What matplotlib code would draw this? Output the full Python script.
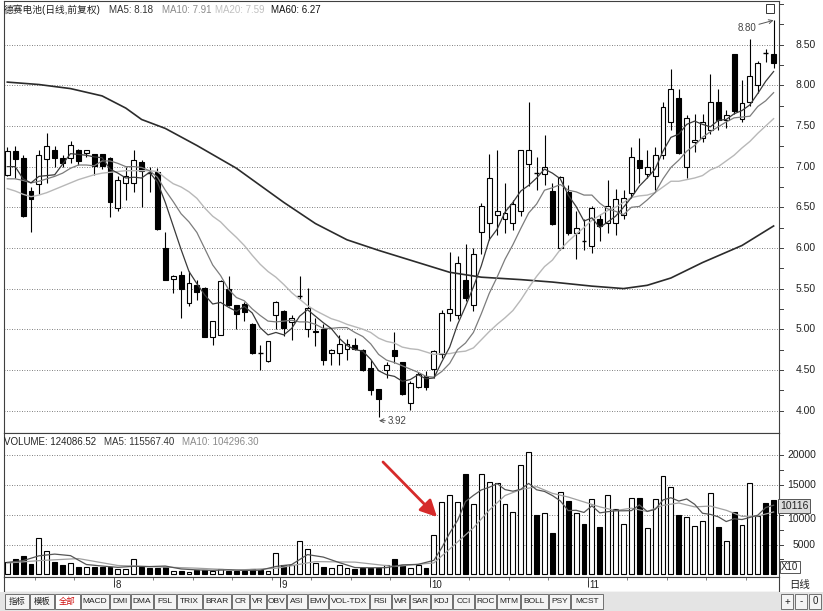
import matplotlib.pyplot as plt
from matplotlib.patches import Rectangle, FancyArrowPatch

W, H = 823, 611

# daily candles, one per trading day
opens = [6.90, 7.19, 7.11, 6.70, 6.79, 7.09, 7.21, 7.11, 7.11, 7.20,
         7.17, 7.16, 7.16, 7.11, 6.49, 6.80, 6.80, 7.06, 6.93, 6.93,
         6.00, 5.62, 5.67, 5.32, 5.55, 5.51, 4.91, 4.93, 5.50, 5.30,
         5.31, 5.06, 4.71, 4.61, 5.18, 5.22, 5.09, 5.40, 5.00, 4.96,
         5.00, 4.71, 4.71, 4.76, 4.80, 4.75, 4.52, 4.26, 4.50, 4.75,
         4.60, 4.09, 4.29, 4.43, 4.51, 4.69, 5.20, 5.18, 5.60, 5.30,
         6.19, 6.31, 6.41, 6.36, 6.31, 6.45, 7.03, 6.93, 6.91, 6.70,
         6.00, 6.69, 6.18, 6.10, 6.02, 6.36, 6.31, 6.31, 6.40, 6.67,
         7.08, 6.91, 6.88, 7.14, 7.55, 7.84, 7.00, 7.30, 7.35, 7.45,
         7.79, 7.57, 8.39, 7.59, 7.79, 8.00, 8.41, 8.39]
highs = [7.24, 7.25, 7.14, 6.75, 7.20, 7.41, 7.25, 7.14, 7.32, 7.22,
         7.20, 7.16, 7.16, 7.12, 6.88, 7.00, 7.20, 7.08, 7.00, 6.98,
         6.20, 5.67, 5.71, 5.71, 5.60, 5.52, 5.10, 5.60, 5.66, 5.30,
         5.33, 5.08, 4.81, 4.86, 5.35, 5.24, 5.18, 5.65, 5.51, 5.14,
         5.06, 4.76, 4.93, 4.88, 4.89, 4.76, 4.62, 4.26, 4.60, 4.97,
         4.60, 4.36, 4.47, 4.48, 4.74, 5.24, 5.95, 5.90, 6.05, 6.00,
         6.55, 7.16, 7.20, 6.80, 6.59, 7.20, 7.80, 7.12, 7.39, 6.80,
         6.88, 6.78, 6.45, 6.35, 6.51, 6.42, 6.84, 6.72, 6.71, 7.24,
         7.35, 7.20, 7.24, 7.80, 8.20, 7.96, 7.63, 7.65, 7.65, 8.14,
         7.95, 7.70, 8.39, 8.06, 8.57, 8.30, 8.45, 8.80]
lows = [6.88, 6.86, 6.38, 6.20, 6.66, 6.80, 7.00, 7.00, 7.05, 7.02,
        7.12, 6.90, 6.97, 6.38, 6.45, 6.59, 6.69, 6.50, 6.69, 6.22,
        5.60, 5.44, 5.14, 5.28, 5.36, 4.91, 4.80, 4.93, 5.28, 5.00,
        5.10, 4.69, 4.50, 4.60, 5.00, 4.92, 4.87, 5.37, 4.90, 4.79,
        4.56, 4.56, 4.56, 4.62, 4.74, 4.48, 4.19, 3.92, 4.40, 4.58,
        4.19, 4.01, 4.28, 4.25, 4.40, 4.65, 5.10, 5.12, 5.35, 5.22,
        5.92, 6.10, 6.16, 6.18, 6.22, 6.39, 6.76, 6.71, 6.78, 6.28,
        5.98, 6.16, 5.86, 5.98, 5.94, 6.08, 6.18, 6.16, 6.35, 6.61,
        6.80, 6.86, 6.71, 7.10, 7.45, 7.15, 6.86, 7.18, 7.30, 7.40,
        7.45, 7.48, 7.65, 7.55, 7.75, 7.90, 8.29, 8.21]
closes = [7.19, 7.09, 6.39, 6.60, 7.14, 7.25, 7.11, 7.05, 7.26, 7.07,
          7.20, 7.01, 7.01, 6.56, 6.83, 6.88, 7.08, 6.95, 6.92, 6.23,
          5.61, 5.66, 5.50, 5.57, 5.46, 4.91, 5.10, 5.59, 5.30, 5.19,
          5.21, 4.71, 4.70, 4.86, 5.34, 5.02, 5.14, 5.42, 5.26, 4.98,
          4.62, 4.75, 4.82, 4.82, 4.76, 4.50, 4.25, 4.14, 4.56, 4.67,
          4.20, 4.34, 4.45, 4.29, 4.73, 5.20, 5.25, 5.82, 5.38, 5.93,
          6.52, 6.86, 6.46, 6.43, 6.54, 7.20, 7.20, 6.92, 6.99, 6.29,
          6.87, 6.18, 6.24, 6.08, 6.49, 6.27, 6.51, 6.60, 6.61, 7.12,
          6.98, 7.00, 7.14, 7.73, 7.96, 7.17, 7.60, 7.33, 7.55, 7.80,
          7.57, 7.63, 7.69, 7.78, 8.12, 8.28, 8.39, 8.28]
volumes = [2120, 2520, 3130, 1730, 6060, 3980, 2120, 1580, 1970, 1300,
           1300, 1190, 1190, 1300, 850, 900, 2520, 1190, 1020, 1020,
           1190, 630, 630, 450, 790, 790, 620, 950, 620, 500,
           620, 900, 790, 630, 3650, 1570, 1570, 5600, 4200, 1850,
           1280, 1000, 1570, 1000, 850, 1000, 1100, 1100, 1570, 2630,
           1570, 1000, 1570, 1000, 6620, 12230, 13350, 12230, 16830, 11780,
           16830, 15600, 15320, 11780, 10440, 18400, 20540, 9980, 10370, 7000,
           13900, 12340, 10270, 8520, 12620, 7960, 13350, 10990, 8520, 12790,
           12790, 7850, 12620, 16550, 14640, 9980, 9590, 8180, 9030, 13630,
           7960, 5600, 10550, 8350, 15430, 9820, 12060, 12510]

# moving average lines as drawn on the chart
ma5 = [7.00, 7.00, 6.85, 6.80, 6.88, 6.89, 6.90, 7.03, 7.16, 7.15,
       7.14, 7.12, 7.11, 6.97, 6.92, 6.86, 6.87, 6.86, 6.93, 6.81,
       6.56, 6.27, 5.98, 5.71, 5.56, 5.42, 5.31, 5.33, 5.27, 5.22,
       5.28, 5.20, 5.02, 4.93, 4.96, 4.93, 5.01, 5.16, 5.24, 5.16,
       5.08, 5.01, 4.89, 4.80, 4.75, 4.73, 4.63, 4.49, 4.44, 4.42,
       4.36, 4.38, 4.44, 4.39, 4.40, 4.60, 4.78, 5.06, 5.28, 5.52,
       5.78, 6.10, 6.23, 6.44, 6.56, 6.70, 6.77, 6.86, 6.97, 6.92,
       6.85, 6.65, 6.51, 6.33, 6.37, 6.25, 6.32, 6.39, 6.50, 6.62,
       6.76, 6.86, 6.97, 7.19, 7.36, 7.40, 7.52, 7.56, 7.52, 7.49,
       7.57, 7.58, 7.65, 7.69, 7.76, 7.90, 8.05, 8.17]
ma10 = [6.85, 6.85, 6.83, 6.80, 6.82, 6.85, 6.88, 6.92, 6.98, 7.02,
        7.02, 7.01, 7.07, 7.07, 7.04, 7.00, 7.00, 6.99, 6.95, 6.87,
        6.71, 6.57, 6.42, 6.32, 6.19, 5.99, 5.79, 5.66, 5.49, 5.39,
        5.35, 5.25, 5.17, 5.10, 5.09, 5.10, 5.11, 5.09, 5.09, 5.06,
        5.01, 5.01, 5.02, 5.02, 4.96, 4.91, 4.82, 4.69, 4.62, 4.59,
        4.55, 4.51, 4.47, 4.42, 4.41, 4.48, 4.58, 4.75, 4.83, 4.96,
        5.19, 5.44, 5.64, 5.86, 6.04, 6.24, 6.43, 6.54, 6.71, 6.74,
        6.78, 6.71, 6.69, 6.65, 6.65, 6.55, 6.48, 6.45, 6.41, 6.50,
        6.51, 6.59, 6.68, 6.85, 6.99, 7.08, 7.19, 7.26, 7.36, 7.43,
        7.49, 7.55, 7.60, 7.61, 7.62, 7.74, 7.81, 7.91]
ma20 = [6.73, 6.70, 6.66, 6.63, 6.65, 6.68, 6.72, 6.76, 6.80, 6.84,
        6.87, 6.90, 6.92, 6.93, 6.94, 6.95, 6.95, 6.95, 6.95, 6.94,
        6.86, 6.79, 6.75, 6.69, 6.61, 6.49, 6.39, 6.32, 6.22, 6.13,
        6.03, 5.91, 5.80, 5.71, 5.64, 5.55, 5.45, 5.37, 5.29, 5.23,
        5.18, 5.13, 5.10, 5.06, 5.03, 5.00, 4.96, 4.89, 4.85, 4.83,
        4.78, 4.76, 4.75, 4.72, 4.69, 4.70, 4.70, 4.72, 4.73, 4.77,
        4.87, 4.97, 5.06, 5.14, 5.23, 5.36, 5.51, 5.65, 5.77, 5.85,
        5.98, 6.08, 6.17, 6.25, 6.34, 6.40, 6.46, 6.50, 6.56, 6.62,
        6.64, 6.65, 6.68, 6.75, 6.82, 6.82, 6.84, 6.86, 6.89, 6.96,
        7.00, 7.07, 7.14, 7.23, 7.31, 7.41, 7.50, 7.59]
ma60_bar = [0, 4, 8, 12, 15, 17, 20, 24, 29, 32, 35, 39, 43, 47, 51, 56,
            60, 65, 69, 74, 78, 81, 84, 88, 93, 97]
ma60 = [8.04, 8.01, 7.96, 7.87, 7.72, 7.58, 7.47, 7.26, 6.98, 6.77, 6.56,
        6.30, 6.10, 5.97, 5.85, 5.70, 5.64, 5.61, 5.58, 5.53, 5.50, 5.54,
        5.63, 5.82, 6.03, 6.27]

vma5_bar = [0, 2, 4, 6, 8, 10, 12, 14, 16, 18, 20, 22, 24, 26, 28, 30, 32,
            34, 36, 38, 40, 42, 44, 46, 48, 50, 52, 54, 55, 56, 57, 58, 59,
            60, 61, 62, 63, 64, 65, 66, 67, 68, 69, 70, 71, 72, 73, 74, 75,
            76, 77, 78, 79, 80, 81, 82, 83, 84, 85, 86, 87, 88, 89, 90, 91,
            92, 93, 94, 95, 96, 97]
vma5 = [2000, 2300, 3110, 3400, 3140, 1650, 1390, 1170, 1350, 1300, 1390,
        900, 740, 660, 750, 660, 690, 1320, 1640, 3320, 2900, 1980, 1140,
        1100, 1120, 1590, 1670, 2350, 4480, 6950, 9090, 12250, 13280,
        14200, 14650, 15270, 14260, 13990, 14310, 15300, 14230, 13950,
        13260, 12360, 10720, 10780, 10410, 11530, 10340, 10540, 10690,
        10690, 10720, 11690, 10590, 10910, 12520, 12890, 12330, 12680,
        11790, 10280, 10080, 9680, 8880, 9350, 9220, 9580, 9950, 11240,
        11630]
vma10_bar = [0, 4, 9, 14, 19, 24, 29, 34, 39, 44, 49, 54, 56, 59, 61, 63,
             65, 67, 69, 71, 73, 75, 77, 79, 81, 83, 85, 87, 89, 91, 93,
             95, 97]
vma10 = [1900, 2300, 2650, 1480, 1250, 1030, 720, 1010, 2140, 2050, 1310,
         1920, 4260, 7820, 10800, 13260, 14260, 14750, 13630, 13010, 12180,
         11350, 10730, 11130, 10570, 11600, 12010, 11350, 11490, 10780,
         9750, 9810, 10490]

price_ticks = [4.0, 4.5, 5.0, 5.5, 6.0, 6.5, 7.0, 7.5, 8.0, 8.5]
vol_ticks = [5000, 10000, 15000, 20000]
month_bar = [14, 35, 54, 74]
month_labels = ["8", "9", "10", "11"]
buttons = ["指标", "模板", "全部", "MACD", "DMI", "DMA", "FSL", "TRIX", "BRAR",
           "CR", "VR", "OBV", "ASI", "EMV", "VOL-TDX", "RSI", "WR", "SAR",
           "KDJ", "CCI", "ROC", "MTM", "BOLL", "PSY", "MCST"]
button_edges = [5, 30, 55, 81, 110, 131, 154, 177, 203, 232, 250, 267, 287,
                308, 329, 370, 392, 410, 431, 453, 475, 497, 521, 549, 571, 604]

plt.rcParams['font.family'] = ['Liberation Sans', 'Noto Sans CJK SC']

fig = plt.figure(figsize=(W / 100, H / 100), dpi=100)
fig.patch.set_facecolor("white")


def box(x0, y0, x1, y1):
    return [x0 / W, 1 - y1 / H, (x1 - x0) / W, (y1 - y0) / H]


STEP = 7.9
X0 = 7.3
xlim = ((4 - X0) / STEP, (779 - X0) / STEP)
dot = (0, (1, 2))

# ---------------- price panel ----------------
ax = fig.add_axes(box(4, 1, 779, 433))
ax.set_xlim(*xlim)
ax.set_ylim(4.0 - (433 - 410.5) / 81.3, 8.5 + (44.7 - 1) / 81.3)
for p in price_ticks:
    ax.axhline(p, color="#555555", lw=0.6, ls=dot, zorder=0)

bw = 0.62
for i in range(len(closes)):
    o, h, l, c = opens[i], highs[i], lows[i], closes[i]
    ax.vlines(i, l, h, color="black", lw=0.8, zorder=2)
    lo, hi = min(o, c), max(o, c)
    if hi - lo < 0.02:
        ax.hlines((o + c) / 2, i - bw / 2, i + bw / 2, color="black", lw=1.0, zorder=3)
    else:
        fc = "white" if c >= o else "black"
        ax.add_patch(Rectangle((i - bw / 2, lo), bw, hi - lo, facecolor=fc,
                               edgecolor="black", lw=0.8, zorder=3))

idx = list(range(len(closes)))
ax.plot(ma60_bar, ma60, color="#2b2b2b", lw=1.2, zorder=4)
ax.plot(idx, ma20, color="#b8b8b8", lw=1.0, zorder=4)
ax.plot(idx, ma10, color="#7c7c7c", lw=0.9, zorder=4)
ax.plot(idx, ma5, color="#3a3a3a", lw=0.9, zorder=4)

ax.annotate("8.80", xy=(97, 8.80), xytext=(93.6, 8.71), fontsize=7, color="#444444",
            ha="center", va="center",
            arrowprops=dict(arrowstyle="->", color="#555555", lw=0.7, shrinkA=0, shrinkB=0))
ax.annotate("3.92", xy=(47.05, 3.875), xytext=(48.2, 3.875), fontsize=7, color="#444444",
            ha="left", va="center",
            arrowprops=dict(arrowstyle="->", color="#555555", lw=0.7, shrinkA=0, shrinkB=0))

ax.set_xticks([])
ax.set_yticks([])
for s in ax.spines.values():
    s.set_color("#404040")
    s.set_linewidth(0.8)
ytr = ax.get_yaxis_transform()
for p in price_ticks:
    ax.text(1.0475, p, f"{p:.2f}", transform=ytr, ha="right", va="center",
            fontsize=7.5, color="#222222", clip_on=False)
for k in range(16, 37):
    p = k * 0.25
    ax.plot([1.0, 1.005], [p, p], transform=ytr, color="#404040", lw=0.7, clip_on=False)

# small icon at the top right
ax.add_patch(Rectangle((766 / W, 1 - 13 / H), 8 / W, 9 / H, transform=fig.transFigure,
                       facecolor="white", edgecolor="#333333", lw=0.7, zorder=6))

# ---------------- volume panel ----------------
av = fig.add_axes(box(4, 433, 779, 577))
av.set_xlim(*xlim)
av.set_ylim(-(577 - 574.3) * 168.35, (574.3 - 433) * 168.35)
for v in vol_ticks:
    av.axhline(v, color="#555555", lw=0.6, ls=dot, zorder=0)
for i, v in enumerate(volumes):
    fc = "white" if closes[i] >= opens[i] else "black"
    av.add_patch(Rectangle((i - bw / 2, 0), bw, v, facecolor=fc, edgecolor="black",
                           lw=0.8, zorder=3))
av.plot(vma10_bar, vma10, color="#a0a0a0", lw=0.9, zorder=4)
av.plot(vma5_bar, vma5, color="#555555", lw=0.9, zorder=4)
av.set_xticks([])
av.set_yticks([])
for s in av.spines.values():
    s.set_color("#404040")
    s.set_linewidth(0.8)
vtr = av.get_yaxis_transform()
for v in vol_ticks:
    av.text(1.0475, v + (-700 if v == 10000 else 0), str(v), transform=vtr, ha="right",
            va="center", fontsize=7.5, color="#222222", clip_on=False)
for k in range(1, 9):
    v = k * 2500
    av.plot([1.0, 1.005], [v, v], transform=vtr, color="#404040", lw=0.7, clip_on=False)

fig.text(780 / W, 1 - 506 / H, "10116", fontsize=7.5, color="#222222", va="center",
         zorder=10,
         bbox=dict(boxstyle="square,pad=0.15", facecolor="#dcdcdc", edgecolor="#555555", lw=0.7))
fig.text(781 / W, 1 - 567 / H, "X10", fontsize=7, color="#222222", va="center",
         bbox=dict(boxstyle="square,pad=0.15", facecolor="white", edgecolor="#555555", lw=0.7))

# ---------------- titles ----------------
ty = 1 - 10 / H
fs = 7.0
fig.text(4 / W, ty, "德赛电池(日线,前复权)", fontsize=fs, color="#222222", va="center")
fig.text(109 / W, ty, "MA5: 8.18", fontsize=fs, color="#333333", va="center")
fig.text(162 / W, ty, "MA10: 7.91", fontsize=fs, color="#8a8a8a", va="center")
fig.text(215 / W, ty, "MA20: 7.59", fontsize=fs, color="#c0c0c0", va="center")
fig.text(271 / W, ty, "MA60: 6.27", fontsize=fs, color="#111111", va="center")

vy = 1 - 442 / H
fig.text(4 / W, vy, "VOLUME: 124086.52", fontsize=fs, color="#222222", va="center")
fig.text(104 / W, vy, "MA5: 115567.40", fontsize=fs, color="#333333", va="center")
fig.text(182 / W, vy, "MA10: 104296.30", fontsize=fs, color="#8a8a8a", va="center")

# red arrow
fig.patches.append(FancyArrowPatch(
    (383, H - 462), (437, H - 517), transform=None,
    arrowstyle="-|>,head_length=10,head_width=5",
    color="#d62a2a", lw=2.0, shrinkA=0, shrinkB=0))

# ---------------- date strip ----------------
ad = fig.add_axes(box(4, 577, 779, 592))
ad.set_xlim(*xlim)
ad.set_ylim(0, 1)
ad.set_xticks([])
ad.set_yticks([])
for s in ad.spines.values():
    s.set_color("#404040")
    s.set_linewidth(0.8)
for b, lab in zip(month_bar, month_labels):
    ad.vlines(b - 0.5, 0.35, 1, color="#333333", lw=0.7)
    ad.text(b - 0.3, 0.45, lab, fontsize=7, va="center", ha="left", color="#222222")
for b in range(4, 98, 5):
    ad.vlines(b - 0.5, 0.8, 1, color="#666666", lw=0.6)
fig.text(800 / W, 1 - 585 / H, "日线", fontsize=7.5, ha="center", va="center", color="#222222")

# ---------------- button bar ----------------
ab = fig.add_axes(box(0, 592, 823, 611))
ab.set_xlim(0, W)
ab.set_ylim(611, 592)
ab.axis("off")
ab.add_patch(Rectangle((0, 592), W, 19, facecolor="#e4e4e4", edgecolor="none"))
for k, lab in enumerate(buttons):
    x0, x1 = button_edges[k], button_edges[k + 1]
    face = "white" if lab == "全部" else "#f4f4f4"
    ab.add_patch(Rectangle((x0, 594), x1 - x0 - 1, 15, facecolor=face,
                           edgecolor="#707070", lw=0.7))
    ab.text((x0 + x1 - 1) / 2, 601.5, lab, fontsize=6, ha="center", va="center",
            color="#d01010" if lab == "全部" else "#222222")
for x0, lab in zip([781, 795, 809], ["+", "-", "0"]):
    ab.add_patch(Rectangle((x0, 594), 12, 15, facecolor="#f4f4f4", edgecolor="#707070", lw=0.7))
    ab.text(x0 + 6, 601.5, lab, fontsize=7, ha="center", va="center", color="#222222")

fig.savefig("out.png", dpi=100)
